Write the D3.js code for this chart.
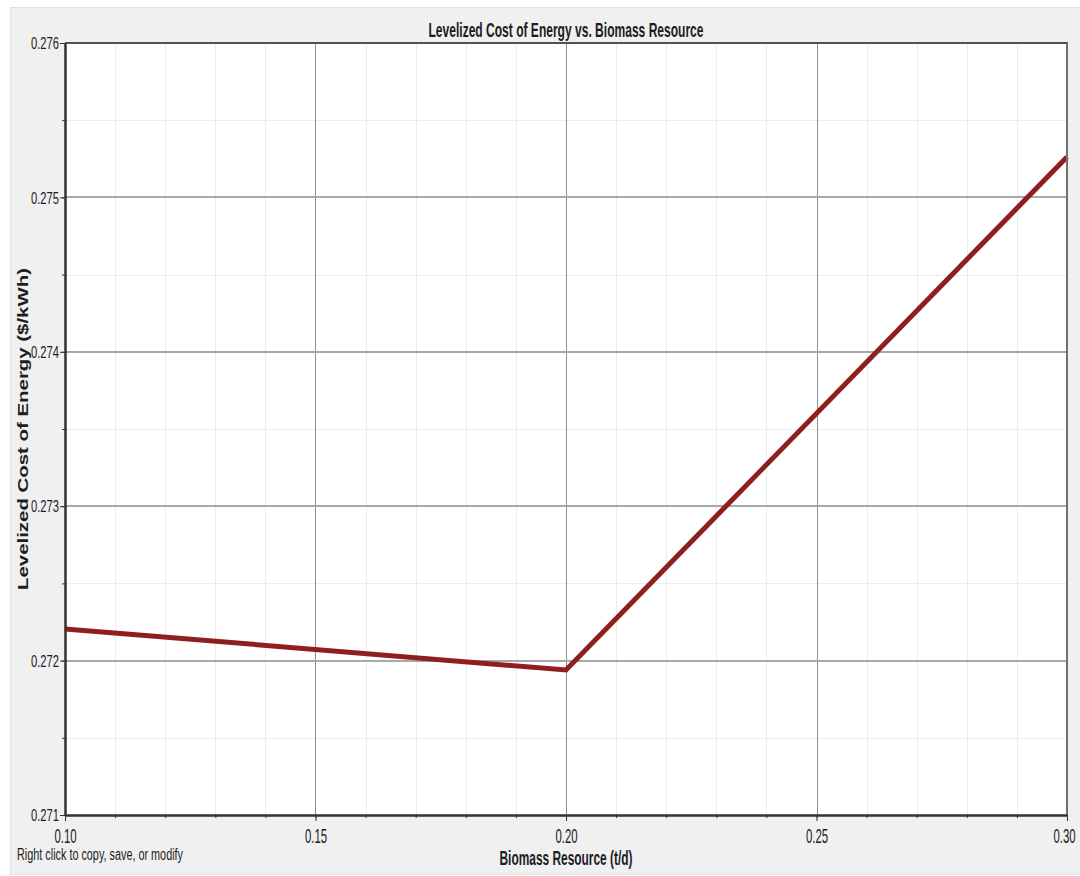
<!DOCTYPE html>
<html>
<head>
<meta charset="utf-8">
<script src="https://cdn.jsdelivr.net/npm/d3@7"></script>
<style>
  html, body { margin: 0; padding: 0; background: #ffffff; }
  svg { display: block; }
</style>
</head>
<body>
<svg id="chart" width="1080" height="876"></svg>
<script>
// Sensitivity results: levelized cost vs. biomass resource
const biomassResource = [0.10, 0.20, 0.30];            // t/d
const levelizedCost   = [0.272205, 0.271939, 0.275262]; // $/kWh

const xTickValues = [0.10, 0.15, 0.20, 0.25, 0.30];
const yTickValues = [0.271, 0.272, 0.273, 0.274, 0.275, 0.276];
const xMinorValues = d3.range(0, 21).map(i => +(0.10 + i * 0.01).toFixed(2));
const yMinorValues = d3.range(0, 11).map(i => +(0.271 + i * 0.0005).toFixed(4));

const chartTitle = "Levelized Cost of Energy vs. Biomass Resource";
const xTitle = "Biomass Resource (t/d)";
const yTitle = "Levelized Cost of Energy ($/kWh)";
const footNote = "Right click to copy, save, or modify";

const W = 1080, H = 876;
const plot = { left: 65, right: 1067, top: 43, bottom: 815 };
const FONT = "'Liberation Sans', Arial, sans-serif";
const INK = "#1c1c24";

const svg = d3.select("#chart");

// squeeze text horizontally into a condensed face
function condense(sel, widthFn) {
  sel.attr("textLength", widthFn).attr("lengthAdjust", "spacingAndGlyphs");
}

// panel background
svg.append("rect").attr("x", 10.5).attr("y", 7.5).attr("width", W - 10).attr("height", 867)
  .attr("fill", "#f0f0f0").attr("stroke", "#e2e2e2").attr("stroke-width", 1);

const x = d3.scaleLinear().domain([0.10, 0.30]).range([plot.left, plot.right]);
const y = d3.scaleLinear().domain([0.271, 0.276]).range([plot.bottom, plot.top]);

// plot background
svg.append("rect").attr("x", plot.left).attr("y", plot.top)
  .attr("width", plot.right - plot.left).attr("height", plot.bottom - plot.top)
  .attr("fill", "#ffffff");

// minor grid
const g = svg.append("g");
g.selectAll("line.xminor").data(xMinorValues).join("line")
  .attr("x1", d => Math.round(x(d)) + 0.5).attr("x2", d => Math.round(x(d)) + 0.5)
  .attr("y1", plot.top).attr("y2", plot.bottom)
  .attr("stroke", "#ececec").attr("stroke-width", 1);
g.selectAll("line.yminor").data(yMinorValues).join("line")
  .attr("y1", d => Math.round(y(d)) + 0.5).attr("y2", d => Math.round(y(d)) + 0.5)
  .attr("x1", plot.left).attr("x2", plot.right)
  .attr("stroke", "#ececec").attr("stroke-width", 1);

// major grid
g.selectAll("line.xmajor").data(xTickValues.slice(1, -1)).join("line")
  .attr("x1", d => Math.round(x(d)) + 0.5).attr("x2", d => Math.round(x(d)) + 0.5)
  .attr("y1", plot.top).attr("y2", plot.bottom)
  .attr("stroke", "#8e8e8e").attr("stroke-width", 1);
g.selectAll("line.ymajor").data(yTickValues.slice(1, -1)).join("line")
  .attr("y1", d => Math.round(y(d))).attr("y2", d => Math.round(y(d)))
  .attr("x1", plot.left).attr("x2", plot.right)
  .attr("stroke", "#a8a8a8").attr("stroke-width", 2);

// data line
const line = d3.line().x((d, i) => x(biomassResource[i])).y(d => y(d));
svg.append("path").datum(levelizedCost)
  .attr("d", line)
  .attr("fill", "none")
  .attr("stroke", "#8f1f1f")
  .attr("stroke-width", 5)
  .attr("stroke-linejoin", "miter");

// frame
svg.append("line").attr("x1", plot.left).attr("x2", plot.right + 1).attr("y1", plot.top).attr("y2", plot.top)
  .attr("stroke", "#505050").attr("stroke-width", 2);
svg.append("line").attr("x1", plot.right).attr("x2", plot.right).attr("y1", plot.top).attr("y2", plot.bottom)
  .attr("stroke", "#707070").attr("stroke-width", 2);

// axes
const xAxis = d3.axisBottom(x).tickValues(xTickValues).tickFormat(d3.format(".2f")).tickSizeInner(6).tickSizeOuter(0).tickPadding(8);
const xAxisMinor = d3.axisBottom(x).tickValues(xMinorValues).tickFormat("").tickSizeInner(3).tickSizeOuter(0);
const yAxis = d3.axisLeft(y).tickValues(yTickValues).tickFormat(d3.format(".3f")).tickSizeInner(5).tickSizeOuter(0).tickPadding(1);
const yAxisMinor = d3.axisLeft(y).tickValues(yMinorValues).tickFormat("").tickSizeInner(3).tickSizeOuter(0);

function styleAxis(sel) {
  sel.attr("font-family", FONT);
  sel.select(".domain").attr("stroke", "#333").attr("stroke-width", 2);
  sel.selectAll(".tick line").attr("stroke", "#333");
  sel.selectAll(".tick text").attr("fill", INK);
}

svg.append("g").attr("transform", `translate(0,${plot.bottom})`).call(xAxisMinor).call(styleAxis);
const gx = svg.append("g").attr("transform", `translate(0,${plot.bottom})`).call(xAxis).call(styleAxis);
// x labels: horizontally squeezed digits, centred under each tick
const xLabelScale = 0.57;
gx.selectAll(".tick text")
  .attr("font-size", 20).attr("dy", "0.70em")
  .attr("transform", `scale(${xLabelScale},1)`)
  .attr("x", d => d === xTickValues[xTickValues.length - 1] ? -3 / xLabelScale : 0);

svg.append("g").attr("transform", `translate(${plot.left},0)`).call(yAxisMinor).call(styleAxis);
const gy = svg.append("g").attr("transform", `translate(${plot.left},0)`).call(yAxis).call(styleAxis);
gy.selectAll(".tick text").attr("font-size", 17).attr("dy", "0.34em").call(condense, 28);

// titles
svg.append("text")
  .attr("x", (plot.left + plot.right) / 2).attr("y", 37)
  .attr("text-anchor", "middle").attr("font-family", FONT)
  .attr("font-size", 21).attr("font-weight", "bold")
  .attr("fill", INK).text(chartTitle)
  .call(condense, 275);

svg.append("text")
  .attr("x", (plot.left + plot.right) / 2).attr("y", 865)
  .attr("text-anchor", "middle").attr("font-family", FONT)
  .attr("font-size", 20).attr("font-weight", "bold")
  .attr("fill", INK).text(xTitle)
  .call(condense, 133);

svg.append("text")
  .attr("transform", `translate(28,${(plot.top + plot.bottom) / 2}) rotate(-90)`)
  .attr("text-anchor", "middle")
  .attr("font-family", FONT)
  .attr("font-size", 15).attr("font-weight", "bold")
  .attr("fill", INK).text(yTitle)
  .call(condense, 322);

svg.append("text")
  .attr("x", 17).attr("y", 860)
  .attr("font-family", FONT)
  .attr("font-size", 16)
  .attr("fill", INK).text(footNote)
  .call(condense, 166);
</script>
</body>
</html>
